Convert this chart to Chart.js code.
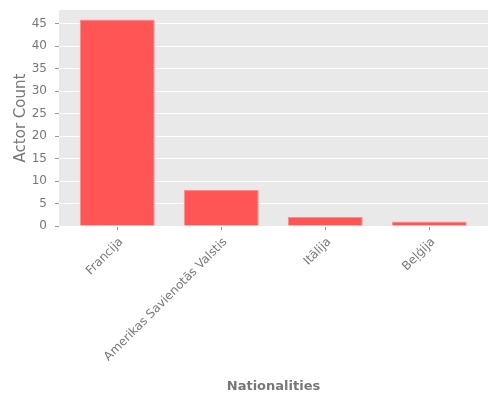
<!DOCTYPE html>
<html>
<head>
<meta charset="utf-8">
<script src="https://cdn.jsdelivr.net/npm/chart.js@4.4.0/dist/chart.umd.min.js"></script>
<style>
  html, body { margin: 0; padding: 0; background: #fff; }
  #wrap { width: 500px; height: 400px; }
</style>
</head>
<body>
<div id="wrap"><canvas id="c"></canvas></div>
<script>
// Data
const nationalities = ['Francija', 'Amerikas Savienotās Valstis', 'Itālija', 'Beļģija'];
const actorCounts = [46, 8, 2, 1];
const yTicks = [0, 5, 10, 15, 20, 25, 30, 35, 40, 45];

const gray = '#777777';

// gray panel behind the plot
const panelBg = {
  id: 'panelBg',
  beforeDraw(chart) {
    const a = chart.chartArea, ctx = chart.ctx;
    ctx.save();
    ctx.fillStyle = '#E9E9E9';
    ctx.fillRect(a.left, a.top, a.right - a.left, a.bottom - a.top);
    ctx.restore();
  }
};

new Chart(document.getElementById('c'), {
  type: 'bar',
  data: {
    datasets: [{
      data: actorCounts.map((v, i) => ({ x: i, y: v })),
      backgroundColor: '#FF5555',
      borderColor: '#FF8A8A',
      borderWidth: 1,
      borderSkipped: 'bottom',
      barPercentage: 0.72,
      categoryPercentage: 1.0
    }]
  },
  options: {
    responsive: true,
    maintainAspectRatio: false,
    animation: false,
    layout: { padding: { left: 0, right: 12, top: 10, bottom: 0 } },
    plugins: { legend: { display: false }, tooltip: { enabled: false } },
    scales: {
      x: {
        type: 'linear',
        offset: false,
        min: -0.56, max: 3.565,
        afterFit: (s) => { s.height = 174; s.paddingLeft = 0; s.paddingRight = 0; },
        afterBuildTicks: (s) => { s.ticks = nationalities.map((_, i) => ({ value: i })); },
        grid: { display: true, offset: false, drawOnChartArea: false, tickLength: 4, tickColor: '#999999', tickWidth: 1 },
        border: { display: false },
        ticks: {
          color: gray,
          font: { family: 'DejaVu Sans', size: 12 },
          minRotation: 45, maxRotation: 45,
          autoSkip: false,
          padding: 5,
          labelOffset: 4,
          callback: (v) => nationalities[v]
        },
        title: {
          display: true, text: 'Nationalities', color: gray,
          font: { family: 'DejaVu Sans', size: 13, weight: 'bold' },
          padding: { top: 0, bottom: 6 }
        }
      },
      y: {
        min: 0, max: 48.1,
        afterFit: (s) => { s.width = 59; s.paddingTop = 0; s.paddingBottom = 0; },
        afterBuildTicks: (s) => { s.ticks = yTicks.map(v => ({ value: v })); },
        grid: { color: '#FFFFFF', lineWidth: 1, tickLength: 4, tickColor: '#999999' },
        border: { display: false },
        ticks: {
          color: gray,
          font: { family: 'DejaVu Sans', size: 12 },
          padding: 8
        },
        title: {
          display: true, text: 'Actor Count', color: gray,
          font: { family: 'DejaVu Sans', size: 15 },
          padding: { top: 12, bottom: 0 }
        }
      }
    }
  },
  plugins: [panelBg]
});
</script>
</body>
</html>
